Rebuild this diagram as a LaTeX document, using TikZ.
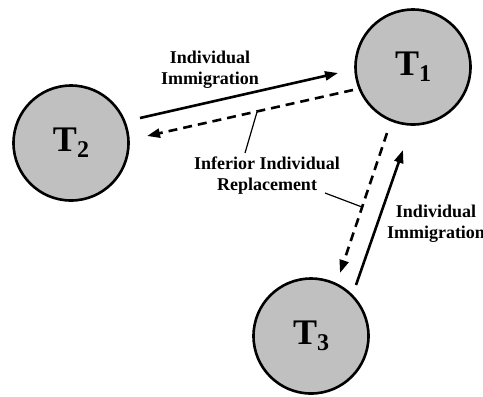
\documentclass[tikz,border=0pt]{standalone}
\usepackage{fontspec}
\setmainfont{Liberation Serif}
\usetikzlibrary{arrows.meta}
\definecolor{tankgray}{HTML}{C0C0C0}
\begin{document}
\begin{tikzpicture}[x=1bp,y=-1bp,
  tank/.style={circle,draw=black,fill=tankgray,line width=2.6bp,minimum size=115bp,inner sep=0pt,
    font=\fontsize{36bp}{40bp}\selectfont\bfseries},
  flow/.style={line width=2.6bp,-{Triangle[length=13bp,width=9bp]}},
  backflow/.style={flow,dash pattern=on 9bp off 6bp},
  leader/.style={line width=1.2bp},
  lbl/.style={align=center,inner sep=0pt,font=\fontsize{18bp}{21bp}\selectfont\bfseries}]
\useasboundingbox (0,0) rectangle (483,396);
% the three tanks
\node[tank] (T1) at (413,67) {T\raisebox{-6bp}{\fontsize{24bp}{26bp}\selectfont 1}};
\node[tank] (T2) at (71,143) {T\raisebox{-6bp}{\fontsize{24bp}{26bp}\selectfont 2}};
\node[tank] (T3) at (311,336) {T\raisebox{-6bp}{\fontsize{24bp}{26bp}\selectfont 3}};
% arrow end points
\coordinate (m21s) at (140,118);
\coordinate (m21e) at (338,73);
\coordinate (r12s) at (353,90);
\coordinate (r12e) at (147,136);
\coordinate (r13s) at (387,133);
\coordinate (r13e) at (340,273);
\coordinate (m31s) at (356,285);
\coordinate (m31e) at (403,150);
\coordinate (hitA) at (257,112);
\coordinate (hitB) at (362,207);
% flows between tanks
\draw[flow] (m21s) -- (m21e);
\draw[backflow] (r12s) -- (r12e);
\draw[backflow] (r13s) -- (r13e);
\draw[flow] (m31s) -- (m31e);
% labels
\node[lbl] (immA) at (210,70) {Individual\\Immigration};
\node[lbl] (repl) at (267,176) {Inferior Individual\\Replacement};
\node[lbl] (immB) at (436,224) {Individual\\Immigration};
% leader lines
\draw[leader] (245,153) -- (hitA);
\draw[leader] (325,193) -- (hitB);
\end{tikzpicture}
\end{document}
